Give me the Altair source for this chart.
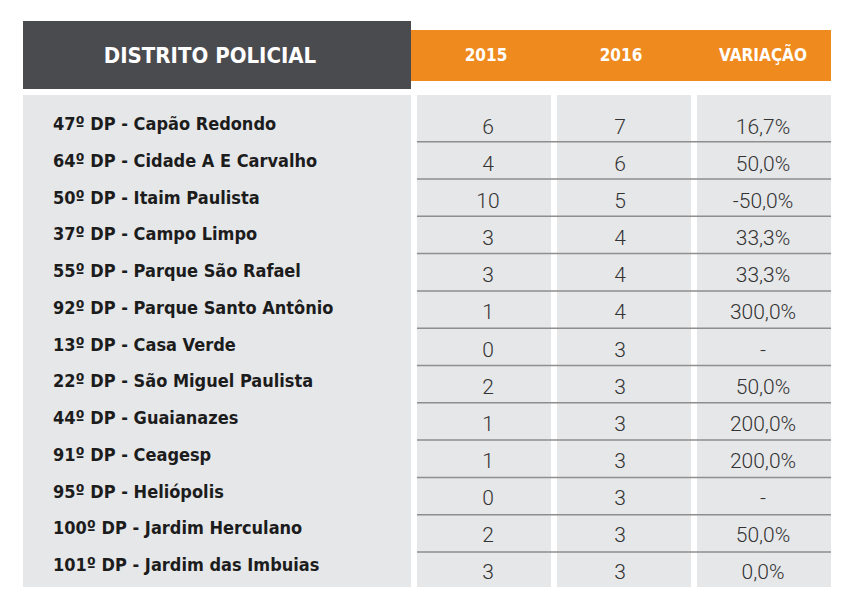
import altair as alt
import pandas as pd

# ---------------- data ----------------
distritos = [
    "47º DP - Capão Redondo",
    "64º DP - Cidade A E Carvalho",
    "50º DP - Itaim Paulista",
    "37º DP - Campo Limpo",
    "55º DP - Parque São Rafael",
    "92º DP - Parque Santo Antônio",
    "13º DP - Casa Verde",
    "22º DP - São Miguel Paulista",
    "44º DP - Guaianazes",
    "91º DP - Ceagesp",
    "95º DP - Heliópolis",
    "100º DP - Jardim Herculano",
    "101º DP - Jardim das Imbuias",
]
v2015 = [6, 4, 10, 3, 3, 1, 0, 2, 1, 1, 0, 2, 3]
v2016 = [7, 6, 5, 4, 4, 4, 3, 3, 3, 3, 3, 3, 3]
variacao = ["16,7%", "50,0%", "-50,0%", "33,3%", "33,3%", "300,0%", "-",
            "50,0%", "200,0%", "200,0%", "-", "50,0%", "0,0%"]
headers = ["DISTRITO POLICIAL", "2015", "2016", "VARIAÇÃO"]

# ---------------- layout ----------------
W, H = 833, 580
DARK = "#4a4b4f"
ORANGE = "#ef8a1e"
PANEL = "#e6e7e9"
LABEL_FONT = "DejaVu Sans Condensed, Roboto"

n = len(distritos)
rows = pd.DataFrame({
    "row": list(range(n)),
    "distrito": distritos,
    "v2015": [str(v) for v in v2015],
    "v2016": [str(v) for v in v2016],
    "variacao": variacao,
})

px = alt.Scale(domain=[0, W], range=[0, W])
py = alt.Scale(domain=[0, H], range=[0, H])

boxes = pd.DataFrame([
    {"x": 15, "x2": 403, "y": 13, "y2": 81, "c": DARK},
    {"x": 403, "x2": 823, "y": 22, "y2": 73, "c": ORANGE},
    {"x": 15, "x2": 403, "y": 87, "y2": 579, "c": PANEL},
    {"x": 409, "x2": 543, "y": 87, "y2": 579, "c": PANEL},
    {"x": 549, "x2": 683, "y": 87, "y2": 579, "c": PANEL},
    {"x": 689, "x2": 823, "y": 87, "y2": 579, "c": PANEL},
])

rect_layer = alt.Chart(boxes).mark_rect().encode(
    x=alt.X("x:Q", scale=px, axis=None),
    x2="x2:Q",
    y=alt.Y("y:Q", scale=py, axis=None),
    y2="y2:Q",
    color=alt.Color("c:N", scale=None),
)

seps = pd.DataFrame({"i": list(range(n - 1))})
sep_layer = alt.Chart(seps).mark_rule(color="#8e8e8e", strokeWidth=1.5).encode(
    y=alt.Y("i:Q", scale=alt.Scale(domain=[0, n - 2], range=[133.7, 544]), axis=None),
    x=alt.value(409),
    x2=alt.value(823),
)

label_y = alt.Y("row:Q", scale=alt.Scale(domain=[0, n - 1], range=[117, 558]), axis=None)
num_y = alt.Y("row:Q", scale=alt.Scale(domain=[0, n - 1], range=[120, 565]), axis=None)

label_layer = alt.Chart(rows).mark_text(
    align="left", baseline="middle", font=LABEL_FONT, fontWeight="bold",
    fontSize=18, color="#1c1c1c",
).encode(x=alt.value(45), y=label_y, text="distrito:N")

num_style = dict(align="center", baseline="middle", font="Roboto",
                 fontWeight=300, fontSize=21, color="#333333")
c2015 = alt.Chart(rows).mark_text(**num_style).encode(
    x=alt.value(480), y=num_y, text="v2015:N")
c2016 = alt.Chart(rows).mark_text(**num_style).encode(
    x=alt.value(612), y=num_y, text="v2016:N")
cvar = alt.Chart(rows).mark_text(**num_style).encode(
    x=alt.value(755), y=num_y, text="variacao:N")

hdr = pd.DataFrame({"h": headers})
head_style = dict(baseline="middle", font=LABEL_FONT, fontWeight="bold", color="white")
h_main = alt.Chart(hdr).transform_filter(alt.datum.h == headers[0]).mark_text(
    fontSize=22, align="center", **head_style).encode(
    x=alt.value(202), y=alt.value(48), text="h:N")
h_2015 = alt.Chart(hdr).transform_filter(alt.datum.h == headers[1]).mark_text(
    fontSize=17, align="center", **head_style).encode(
    x=alt.value(478), y=alt.value(48), text="h:N")
h_2016 = alt.Chart(hdr).transform_filter(alt.datum.h == headers[2]).mark_text(
    fontSize=17, align="center", **head_style).encode(
    x=alt.value(613), y=alt.value(48), text="h:N")
h_var = alt.Chart(hdr).transform_filter(alt.datum.h == headers[3]).mark_text(
    fontSize=17, align="center", **head_style).encode(
    x=alt.value(755), y=alt.value(48), text="h:N")

chart = alt.layer(
    rect_layer, sep_layer, label_layer, c2015, c2016, cvar,
    h_main, h_2015, h_2016, h_var,
).resolve_scale(x="independent", y="independent").properties(
    width=W, height=H, padding=0, autosize="none", background="white",
).configure_view(strokeWidth=0, stroke="transparent")

chart.save("out.html", embed_options={"renderer": "svg", "actions": False})
